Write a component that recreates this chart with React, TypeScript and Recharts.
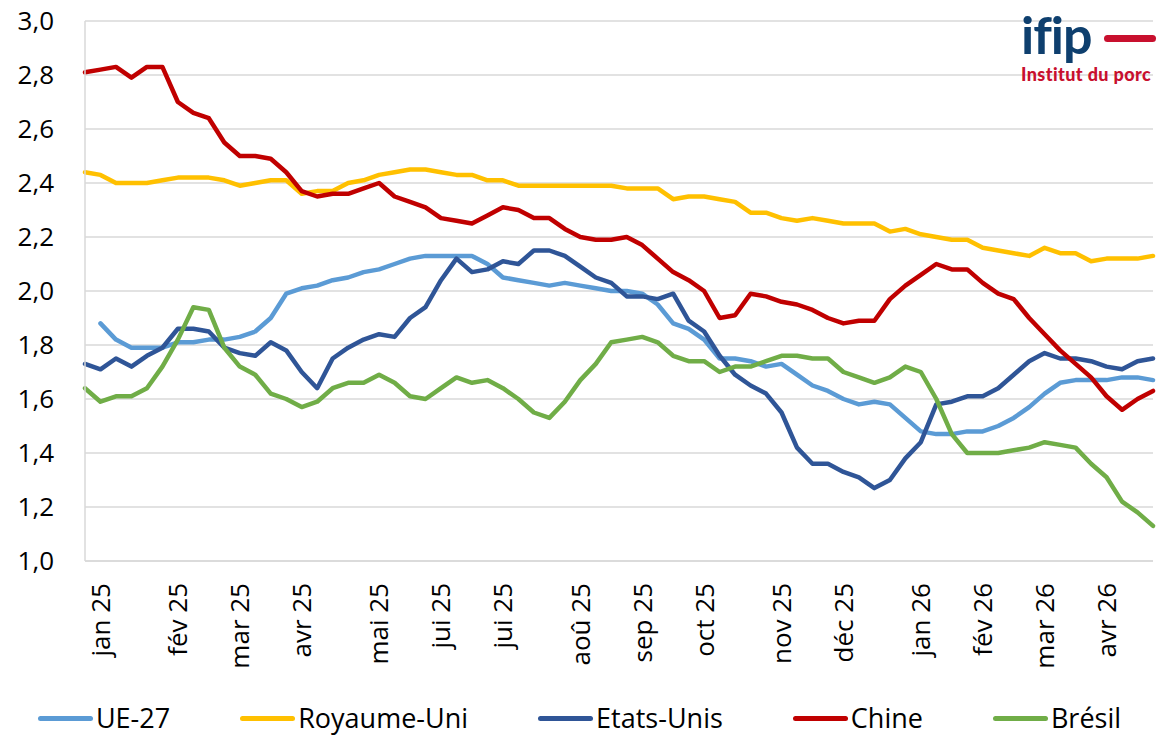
import { CartesianGrid, Legend, Line, LineChart, XAxis, YAxis } from "recharts";

// semaines : index 0..69, libellé mensuel sur la première semaine du mois
const monthLabels = [
  "jan 25", "fév 25", "mar 25", "avr 25", "mai 25", "jui 25", "jui 25", "aoû 25",
  "sep 25", "oct 25", "nov 25", "déc 25", "jan 26", "fév 26", "mar 26", "avr 26",
];
const monthTickIdx = [1, 6, 10, 14, 19, 23, 27, 32, 36, 40, 45, 49, 54, 58, 62, 66];
const yTicks = [1.0, 1.2, 1.4, 1.6, 1.8, 2.0, 2.2, 2.4, 2.6, 2.8, 3.0];

const ue27 = [
  null, 1.88, 1.82, 1.79, 1.79, 1.79, 1.81, 1.81, 1.82, 1.82, 1.83, 1.85, 1.9, 1.99, 2.01, 2.02, 2.04, 2.05, 2.07, 2.08,
  2.1, 2.12, 2.13, 2.13, 2.13, 2.13, 2.1, 2.05, 2.04, 2.03, 2.02, 2.03, 2.02, 2.01, 2.0, 2.0, 1.99, 1.95, 1.88, 1.86,
  1.82, 1.75, 1.75, 1.74, 1.72, 1.73, 1.69, 1.65, 1.63, 1.6, 1.58, 1.59, 1.58, 1.53, 1.48, 1.47, 1.47, 1.48, 1.48, 1.5,
  1.53, 1.57, 1.62, 1.66, 1.67, 1.67, 1.67, 1.68, 1.68, 1.67,
];
const royaumeUni = [
  2.44, 2.43, 2.4, 2.4, 2.4, 2.41, 2.42, 2.42, 2.42, 2.41, 2.39, 2.4, 2.41, 2.41, 2.36, 2.37, 2.37, 2.4, 2.41, 2.43,
  2.44, 2.45, 2.45, 2.44, 2.43, 2.43, 2.41, 2.41, 2.39, 2.39, 2.39, 2.39, 2.39, 2.39, 2.39, 2.38, 2.38, 2.38, 2.34, 2.35,
  2.35, 2.34, 2.33, 2.29, 2.29, 2.27, 2.26, 2.27, 2.26, 2.25, 2.25, 2.25, 2.22, 2.23, 2.21, 2.2, 2.19, 2.19, 2.16, 2.15,
  2.14, 2.13, 2.16, 2.14, 2.14, 2.11, 2.12, 2.12, 2.12, 2.13,
];
const etatsUnis = [
  1.73, 1.71, 1.75, 1.72, 1.76, 1.79, 1.86, 1.86, 1.85, 1.79, 1.77, 1.76, 1.81, 1.78, 1.7, 1.64, 1.75, 1.79, 1.82, 1.84,
  1.83, 1.9, 1.94, 2.04, 2.12, 2.07, 2.08, 2.11, 2.1, 2.15, 2.15, 2.13, 2.09, 2.05, 2.03, 1.98, 1.98, 1.97, 1.99, 1.89,
  1.85, 1.76, 1.69, 1.65, 1.62, 1.55, 1.42, 1.36, 1.36, 1.33, 1.31, 1.27, 1.3, 1.38, 1.44, 1.58, 1.59, 1.61, 1.61, 1.64,
  1.69, 1.74, 1.77, 1.75, 1.75, 1.74, 1.72, 1.71, 1.74, 1.75,
];
const chine = [
  2.81, 2.82, 2.83, 2.79, 2.83, 2.83, 2.7, 2.66, 2.64, 2.55, 2.5, 2.5, 2.49, 2.44, 2.37, 2.35, 2.36, 2.36, 2.38, 2.4,
  2.35, 2.33, 2.31, 2.27, 2.26, 2.25, 2.28, 2.31, 2.3, 2.27, 2.27, 2.23, 2.2, 2.19, 2.19, 2.2, 2.17, 2.12, 2.07, 2.04,
  2.0, 1.9, 1.91, 1.99, 1.98, 1.96, 1.95, 1.93, 1.9, 1.88, 1.89, 1.89, 1.97, 2.02, 2.06, 2.1, 2.08, 2.08, 2.03, 1.99,
  1.97, 1.9, 1.84, 1.78, 1.73, 1.68, 1.61, 1.56, 1.6, 1.63,
];
const bresil = [
  1.64, 1.59, 1.61, 1.61, 1.64, 1.72, 1.82, 1.94, 1.93, 1.79, 1.72, 1.69, 1.62, 1.6, 1.57, 1.59, 1.64, 1.66, 1.66, 1.69,
  1.66, 1.61, 1.6, 1.64, 1.68, 1.66, 1.67, 1.64, 1.6, 1.55, 1.53, 1.59, 1.67, 1.73, 1.81, 1.82, 1.83, 1.81, 1.76, 1.74,
  1.74, 1.7, 1.72, 1.72, 1.74, 1.76, 1.76, 1.75, 1.75, 1.7, 1.68, 1.66, 1.68, 1.72, 1.7, 1.6, 1.47, 1.4, 1.4, 1.4,
  1.41, 1.42, 1.44, 1.43, 1.42, 1.36, 1.31, 1.22, 1.18, 1.13,
];

const series = [
  { key: "ue27", name: "UE-27", color: "#5B9BD5" },
  { key: "royaumeUni", name: "Royaume-Uni", color: "#FFC000" },
  { key: "etatsUnis", name: "Etats-Unis", color: "#2F5597" },
  { key: "chine", name: "Chine", color: "#C00000" },
  { key: "bresil", name: "Brésil", color: "#70AD47" },
];

const data = chine.map((_, i) => ({
  week: i,
  ue27: ue27[i],
  royaumeUni: royaumeUni[i],
  etatsUnis: etatsUnis[i],
  chine: chine[i],
  bresil: bresil[i],
}));

const FONT = "'Open Sans', sans-serif";

function MonthTick({ x, y, payload }: any) {
  const label = monthLabels[monthTickIdx.indexOf(payload.value)] ?? "";
  return (
    <text
      transform={`translate(${x},${y + 22}) rotate(-90)`}
      textAnchor="end"
      dy="0.36em"
      fontSize={26}
      fill="#000"
    >
      {label}
    </text>
  );
}

function LegendRow() {
  return (
    <div
      style={{
        height: 36,
        display: "flex",
        justifyContent: "center",
        alignItems: "center",
        gap: 70,
        fontSize: 27,
        color: "#000",
        fontFamily: FONT,
        paddingLeft: 6,
      }}
    >
      {series.map((s) => (
        <div key={s.key} style={{ display: "flex", alignItems: "center", gap: 3 }}>
          <span style={{ width: 55, height: 5, borderRadius: 3, background: s.color, display: "inline-block" }} />
          <span style={{ lineHeight: "36px" }}>{s.name}</span>
        </div>
      ))}
    </div>
  );
}

export default function App() {
  return (
    <div style={{ position: "relative", width: 1160, height: 736, background: "#fff", fontFamily: FONT }}>
      <style>{`body{margin:0}`}</style>
      <LineChart width={1160} height={736} data={data} margin={{ top: 21, right: 7, left: 0, bottom: 0 }}>
        <CartesianGrid vertical={false} stroke="#D9D9D9" strokeWidth={1.5} />
        <XAxis
          dataKey="week"
          type="number"
          domain={[0, 69]}
          ticks={monthTickIdx}
          interval={0}
          tick={<MonthTick />}
          tickLine={false}
          tickSize={0}
          tickMargin={0}
          axisLine={{ stroke: "#D9D9D9", strokeWidth: 1.5 }}
          height={139}
        />
        <YAxis
          domain={[1, 3]}
          ticks={yTicks}
          interval={0}
          tickFormatter={(v: number) => v.toFixed(1).replace(".", ",")}
          tick={{ fontSize: 26, fill: "#000" }}
          tickLine={false}
          tickSize={0}
          tickMargin={31}
          axisLine={{ stroke: "#D9D9D9", strokeWidth: 1.5 }}
          width={85}
        />
        <Legend verticalAlign="bottom" content={() => <LegendRow />} />
        {series.map((s) => (
          <Line
            key={s.key}
            type="linear"
            dataKey={s.key}
            name={s.name}
            stroke={s.color}
            strokeWidth={4.5}
            strokeLinejoin="round"
            strokeLinecap="round"
            dot={false}
            isAnimationActive={false}
          />
        ))}
      </LineChart>
      <div style={{ position: "absolute", left: 1021, top: 4, width: 139, fontFamily: "Lato, sans-serif" }}>
        <div style={{ display: "flex", alignItems: "center" }}>
          <span style={{ fontSize: 52, fontWeight: 700, color: "#0E3F6E", lineHeight: "60px", letterSpacing: -1 }}>ifip</span>
          <span style={{ marginLeft: 12, width: 52, height: 7, borderRadius: 4, background: "#C8102E", display: "inline-block", marginTop: 8 }} />
        </div>
        <div style={{ fontSize: 18, fontWeight: 900, color: "#C8102E", lineHeight: "20px", letterSpacing: 0.4, whiteSpace: "nowrap" }}>
          Institut du porc
        </div>
      </div>
    </div>
  );
}
